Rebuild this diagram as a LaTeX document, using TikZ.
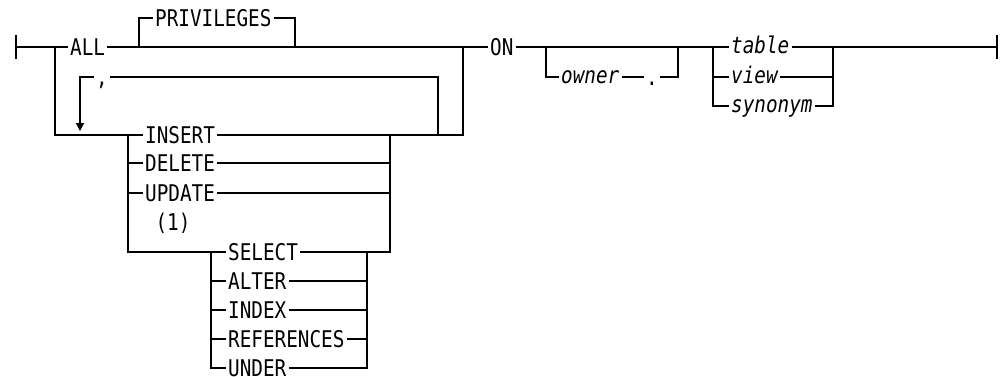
\documentclass[tikz,border=0pt]{standalone}
\usepackage{fontspec}
\setmonofont{DejaVu Sans Mono}[FakeStretch=0.84]
\usetikzlibrary{arrows.meta}

\begin{document}
\begin{tikzpicture}[x=1pt,y=-1pt,line cap=butt,line join=miter,
  rail/.style={line width=1.2pt},
  kw/.style={inner sep=2pt,font=\fontsize{23}{26}\ttfamily,text height=16.8pt,text depth=0pt},
  var/.style={kw,font=\fontsize{23}{26}\ttfamily\itshape,text height=12.5pt}]
  \useasboundingbox (0,0) rectangle (1001,376);
  % junctions of the main line
  \coordinate (start) at (16,47);
  \coordinate (split) at (55,47);
  \coordinate (pl) at (139,47);
  \coordinate (pr) at (295,47);
  \coordinate (join) at (463,47);
  \coordinate (ol) at (546,47);
  \coordinate (or) at (678,47);
  \coordinate (tl) at (713,47);
  \coordinate (tr) at (833,47);
  \coordinate (stop) at (997,47);
  % junctions of the privilege list
  \coordinate (gl) at (128,135);
  \coordinate (gr) at (390,135);
  \coordinate (sl) at (211,252);
  \coordinate (sr) at (367,252);
  \coordinate (loopr) at (438,135);
  \coordinate (ltip) at (80,131);
  % keywords and variables
  \node[kw,anchor=west] (all) at (68,47) {ALL};
  \node[kw,anchor=west] (priv) at (153,18) {PRIVILEGES};
  \node[kw,anchor=west] (on) at (488,47) {ON};
  \node[var,anchor=west] (owner) at (559,77) {owner};
  \node[kw] (dot) at (652,77) {.};
  \node[var,anchor=west] (table) at (729,47) {table};
  \node[var,anchor=west] (view) at (729,77) {view};
  \node[var,anchor=west] (synonym) at (729,106) {synonym};
  \node[kw] (comma) at (102,77) {,};
  \node[kw,anchor=west] (insert) at (143,135) {INSERT};
  \node[kw,anchor=west] (delete) at (143,163) {DELETE};
  \node[kw,anchor=west] (update) at (143,193) {UPDATE};
  \node[kw] (note) at (173,222) {(1)};
  \node[kw,anchor=west] (select) at (226,252) {SELECT};
  \node[kw,anchor=west] (alter) at (226,281) {ALTER};
  \node[kw,anchor=west] (index) at (226,310) {INDEX};
  \node[kw,anchor=west] (refs) at (226,339) {REFERENCES};
  \node[kw,anchor=west] (under) at (226,368) {UNDER};
  % start and end bars
  \draw[rail] ([yshift=-12pt]start) -- ([yshift=12pt]start);
  \draw[rail] ([yshift=-12pt]stop) -- ([yshift=12pt]stop);
  % main line
  \draw[rail] (start) -- (split) -- (all.west);
  \draw[rail] (all.east) -- (join) -- (on.west);
  \draw[rail] (pl) |- (priv.west);
  \draw[rail] (priv.east) -| (pr);
  \draw[rail] (on.east) -- (tl) -- (table.west);
  \draw[rail] (ol) |- (owner.west);
  \draw[rail] (owner.east) -- (dot.west);
  \draw[rail] (dot.east) -| (or);
  \draw[rail] (tl) |- (view.west);
  \draw[rail] (tl) |- (synonym.west);
  \draw[rail] (table.east) -- (tr) -- (stop);
  \draw[rail] (view.east) -| (tr);
  \draw[rail] (synonym.east) -| (tr);
  % privilege list
  \draw[rail] (split) |- (insert.west);
  \draw[rail] (gl) |- (delete.west);
  \draw[rail] (gl) |- (update.west);
  \draw[rail] (gl) |- (select.west);
  \draw[rail] (insert.east) -| (join);
  \draw[rail] (delete.east) -| (gr);
  \draw[rail] (update.east) -| (gr);
  \draw[rail] (sl) |- (alter.west);
  \draw[rail] (sl) |- (index.west);
  \draw[rail] (sl) |- (refs.west);
  \draw[rail] (sl) |- (under.west);
  \draw[rail] (select.east) -| (sr);
  \draw[rail] (alter.east) -| (sr);
  \draw[rail] (index.east) -| (sr);
  \draw[rail] (refs.east) -| (sr);
  \draw[rail] (under.east) -| (sr);
  \draw[rail] (sr) -| (gr);
  % repeat loop
  \draw[rail] (loopr) |- (comma.east);
  \draw[rail,-{Triangle[width=8pt,length=8pt]}] (comma.west) -| (ltip);
\end{tikzpicture}
\end{document}
